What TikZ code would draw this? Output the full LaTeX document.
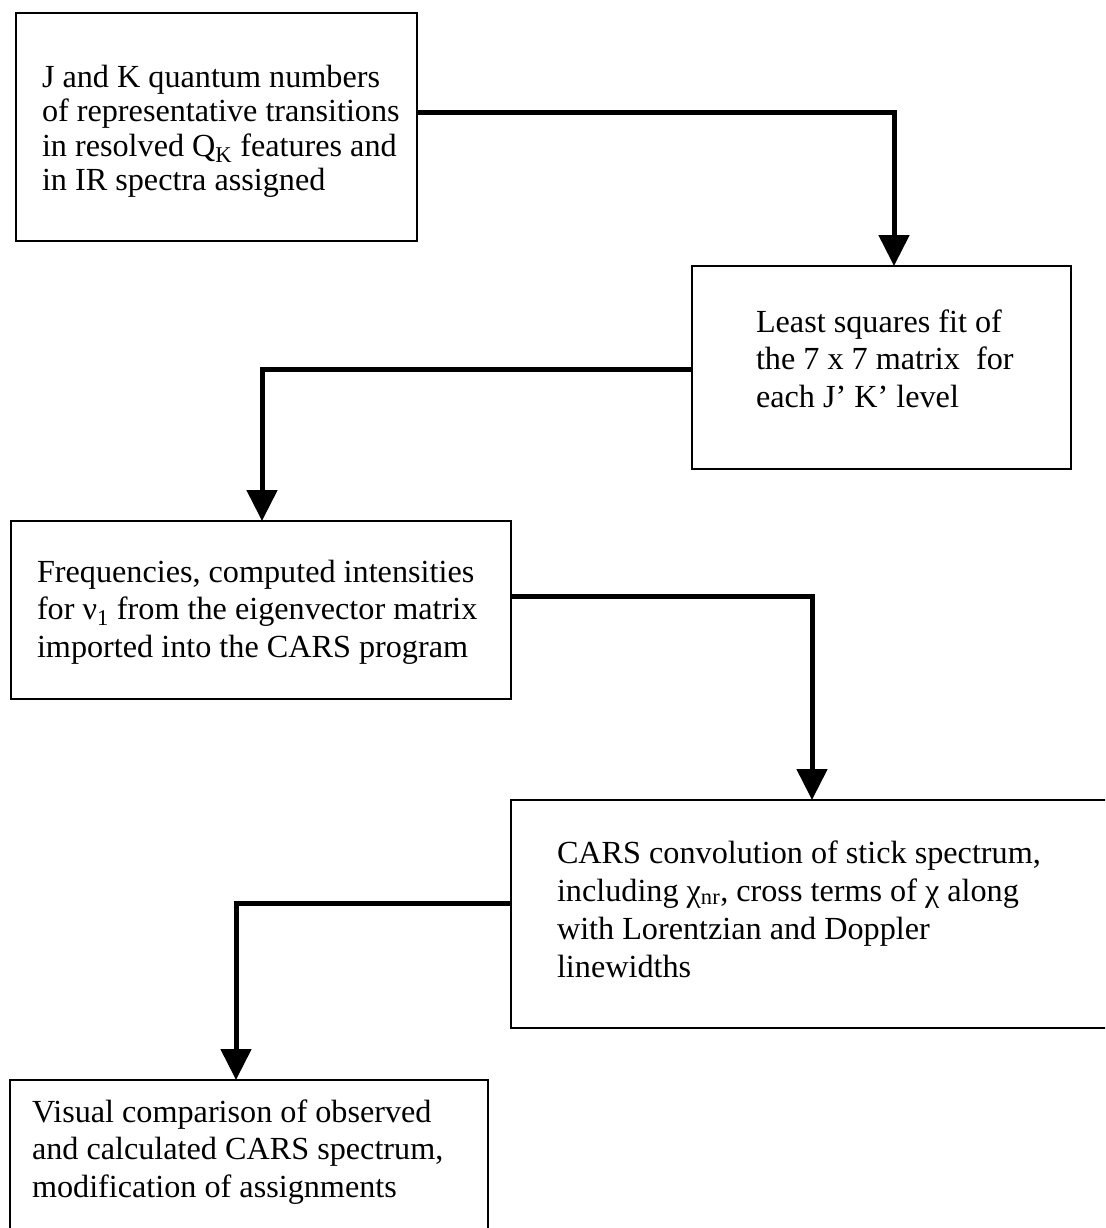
\documentclass[tikz,border=0pt]{standalone}
\usepackage{fontspec}
\setmainfont{Liberation Serif}
\usetikzlibrary{arrows.meta}
\tikzset{
  box/.style={draw=black, line width=1.8pt, rectangle, inner sep=0pt, outer sep=0pt},
  txt/.style={anchor=north west, align=left, inner sep=0pt, outer sep=0pt},
  conn/.style={line width=5pt, line join=miter, -{Triangle[width=30pt,length=31pt]}}
}
\begin{document}
\begin{tikzpicture}[x=1pt,y=-1pt]
\useasboundingbox (0,0) rectangle (1105,1228);
\clip (0,0) rectangle (1105,1228);
\fill[white] (0,0) rectangle (1105,1228);
% boxes
\node[box, minimum width=401pt, minimum height=228pt] (b1) at (216.5,127) {};
\node[box, minimum width=379pt, minimum height=203pt] (b2) at (881.5,367.5) {};
\node[box, minimum width=500pt, minimum height=178pt] (b3) at (261,610) {};
\node[box, minimum width=604pt, minimum height=228pt] (b4) at (813,914) {};
\node[box, minimum width=478pt, minimum height=170pt] (b5) at (249,1165) {};
% texts
\node[txt, font=\fontsize{32.2}{34.5}\selectfont] (t1) at (42,62.85)
  {\strut J and K quantum numbers\\of representative transitions\\in resolved Q\textsubscript{K} features and\\in IR spectra assigned};
\node[txt, font=\fontsize{32.2}{37.5}\selectfont] (t2) at (756,305.75)
  {\strut Least squares fit of\\the 7 x 7 matrix~ for\\each J’ K’ level};
\node[txt, font=\fontsize{32.2}{37.5}\selectfont] (t3) at (37,555.75)
  {\strut Frequencies, computed intensities\\for ν\textsubscript{1} from the eigenvector matrix\\imported into the CARS program};
\node[txt, font=\fontsize{32.2}{38}\selectfont] (t4) at (557,836.4)
  {\strut CARS convolution of stick spectrum,\\including χ\textsubscript{nr}, cross terms of χ along\\with Lorentzian and Doppler\\linewidths};
\node[txt, font=\fontsize{32.2}{37.5}\selectfont] (t5) at (32,1095.75)
  {\strut Visual comparison of observed\\and calculated CARS spectrum,\\modification of assignments};
% connectors
\draw[conn] ([yshift=14pt]b1.east) -| ([xshift=12.5pt]b2.north);
\draw[conn] ([yshift=-1.5pt]b2.west) -| ([xshift=1pt]b3.north);
\draw[conn] ([yshift=14pt]b3.east) -| ([xshift=-1pt]b4.north);
\draw[conn] ([yshift=11pt]b4.west) -| ([xshift=-13pt]b5.north);
\end{tikzpicture}
\end{document}
